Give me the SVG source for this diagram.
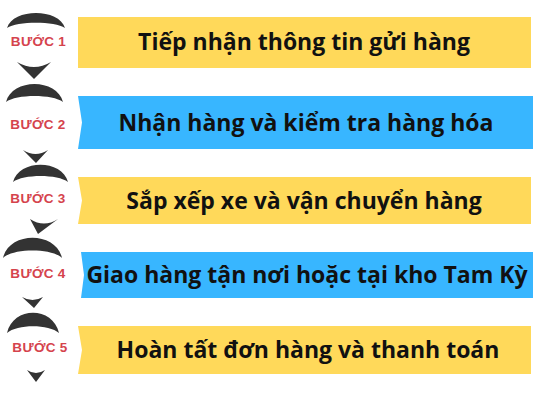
<svg xmlns="http://www.w3.org/2000/svg" width="533" height="400" viewBox="0 0 533 400">
<style>
.y{fill:#FFD95A}
.b{fill:#38B6FF}
.t{font-family:"Open Sans","Noto Sans","DejaVu Sans",sans-serif;font-weight:700;font-size:23px;fill:#111;text-anchor:middle}
.l{font-family:"Liberation Sans","Noto Sans",sans-serif;font-weight:700;font-size:13.5px;letter-spacing:0.3px;fill:#D5434D;text-anchor:middle}
.c{fill:#333333}
</style>
<rect width="533" height="400" fill="#ffffff"/>
<g id="step1">
<path class="c" d="M7 28 C13 8 59 8 65 28 C55 21 17 21 7 28 Z"/>
<text class="l" x="38.5" y="46">BƯỚC 1</text>
<path class="y" d="M78 17 H531 V68 H78 Z"/>
<text class="t" x="304" y="50">Tiếp nhận thông tin gửi hàng</text>
</g>
<g id="step2">
<path class="c" d="M6 102 C12 78 57 78 63 102 C53 94 16 94 6 102 Z"/>
<text class="l" x="38" y="129">BƯỚC 2</text>
<path class="b" d="M78 96 H533 V149 H78 L82 122.5 Z"/>
<text class="t" x="306" y="130.5">Nhận hàng và kiểm tra hàng hóa</text>
</g>
<g id="step3">
<path class="c" d="M13 182 C19 159 62 159 68 182 C58 174 23 174 13 182 Z"/>
<text class="l" x="38" y="203">BƯỚC 3</text>
<path class="y" d="M78 177 H531 V224 H78 L82 200.5 Z"/>
<text class="t" x="304" y="208.5">Sắp xếp xe và vận chuyển hàng</text>
</g>
<g id="step4">
<path class="c" d="M3 258 C9 231 56 231 62 258 C52 248 13 248 3 258 Z"/>
<text class="l" x="38" y="278">BƯỚC 4</text>
<path class="b" d="M81 252 H533 V298 H81 L84 275 Z"/>
<text class="t" x="307" y="283">Giao hàng tận nơi hoặc tại kho Tam Kỳ</text>
</g>
<g id="step5">
<path class="c" d="M7 333 C13 306 53 306 59 333 C49 324 17 324 7 333 Z"/>
<text class="l" x="40" y="352">BƯỚC 5</text>
<path class="y" d="M78 326 H531 V374 H78 L82 350 Z"/>
<text class="t" x="308" y="358">Hoàn tất đơn hàng và thanh toán</text>
</g>
<g id="connectors">
<path class="c" d="M17 62 Q34 72 51 62 L34 79 Z"/>
<path class="c" d="M23 150 Q35.5 158 48 150 L36 163 Z"/>
<path class="c" d="M30 219 Q44 228 58 219 L38 234 Z"/>
<path class="c" d="M22 297 Q32.5 303 43 297 L34 308 Z"/>
<path class="c" d="M27 370 Q36 376 45 370 L36 382 Z"/>
</g>
</svg>
